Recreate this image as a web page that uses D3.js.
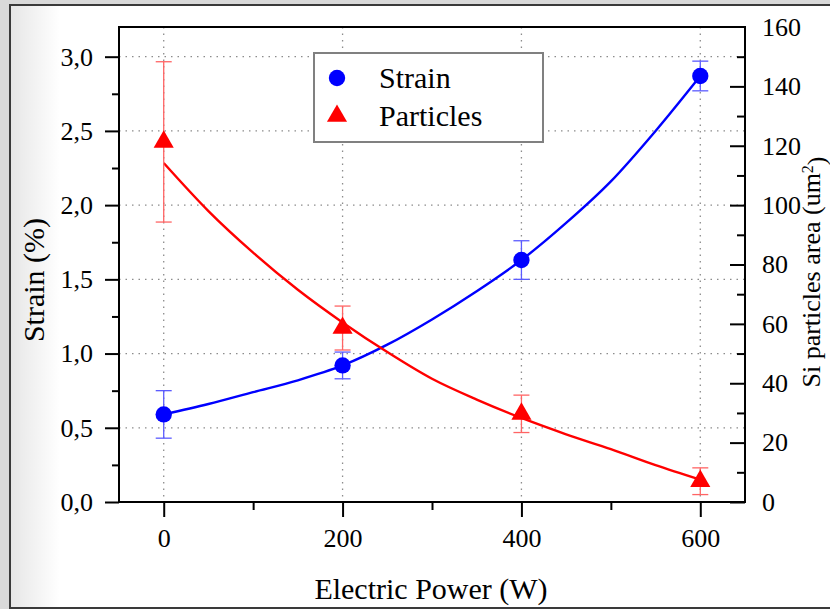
<!DOCTYPE html>
<html>
<head>
<meta charset="utf-8">
<script src="https://d3js.org/d3.v7.min.js"></script>
<style>
  body { margin: 0px; padding: 0px; background: #ffffff; }
  svg text { font-family: "Liberation Serif", "Times New Roman", serif; fill: #000; }
</style>
</head>
<body>
<div id="svg_cont"></div>
<script>

// measured points
var power = [0, 200, 400, 600];
var strain = [0.59, 0.92, 1.63, 2.87];
var strain_err = [0.16, 0.09, 0.13, 0.10];
var particles = [121.3, 58.6, 29.7, 7.0];
var particles_err = [27, 7.4, 6.3, 4.5];

// fitted curves
var fit_power = [0, 50, 100, 150, 200, 250, 300, 350, 400, 450, 500, 550, 600];
var strain_fit = [0.59, 0.66, 0.74, 0.82, 0.92, 1.06, 1.23, 1.42, 1.63, 1.88, 2.16, 2.50, 2.87];
var particles_fit = [114.2, 98, 84, 71.5, 60.5, 50.5, 41.5, 34.5, 28.3, 22.8, 17.8, 12.4, 7.5];

// axes
var x_ticks = [0, 200, 400, 600];
var x_minor = [100, 300, 500];
var y_left_ticks = [0, 0.5, 1.0, 1.5, 2.0, 2.5, 3.0];
var y_left_minor = [0.25, 0.75, 1.25, 1.75, 2.25, 2.75];
var y_right_ticks = [0, 20, 40, 60, 80, 100, 120, 140, 160];
var y_right_minor = [10, 30, 50, 70, 90, 110, 130, 150];

var legend_labels = ['Strain', 'Particles'];

var w = 830, h = 609;
var plot = { left: 119, right: 745, top: 27, bottom: 502 };

var svg_main = d3.select('div#svg_cont')
  .append('svg')
  .attr('width', w)
  .attr('height', h);

var defs = svg_main.append('defs');
var grad = defs.append('linearGradient').attr('id', 'bg_grad')
  .attr('x1', 0).attr('x2', 1).attr('y1', 0).attr('y2', 0);
grad.append('stop').attr('offset', '0%').attr('stop-color', '#e6e6e6');
grad.append('stop').attr('offset', '6%').attr('stop-color', '#ffffff');
grad.append('stop').attr('offset', '100%').attr('stop-color', '#ffffff');

svg_main.append('rect').attr('width', w).attr('height', h).attr('fill', '#d9d9d9');
svg_main.append('rect')
  .attr('x', 10).attr('y', 5).attr('width', w).attr('height', 603)
  .attr('fill', 'url(#bg_grad)')
  .attr('stroke', '#3a3a3a').attr('stroke-width', 2);

var x = d3.scaleLinear().domain([-50, 650]).range([plot.left, plot.right]);
var y_left = d3.scaleLinear().domain([0, 3.2]).range([plot.bottom, plot.top]);
var y_right = d3.scaleLinear().domain([0, 160]).range([plot.bottom, plot.top]);

var fmt_comma = function(d) { return d3.format('.1f')(d).replace('.', ','); };

// grid
var grid = svg_main.append('g')
  .attr('stroke', '#8c8c8c')
  .attr('stroke-width', 1.3)
  .attr('stroke-dasharray', '1.5,5');
grid.selectAll('line.gx')
  .data(x_ticks)
  .enter().append('line')
    .attr('x1', d => x(d)).attr('x2', d => x(d))
    .attr('y1', plot.top).attr('y2', plot.bottom);
grid.selectAll('line.gy')
  .data(y_left_ticks.filter(d => d > 0))
  .enter().append('line')
    .attr('x1', plot.left).attr('x2', plot.right)
    .attr('y1', d => y_left(d)).attr('y2', d => y_left(d));

// axes
var axis_font = '26px';
var title_font = '30px';

svg_main.append('g')
  .attr('transform', 'translate(0,' + plot.bottom + ')')
  .call(d3.axisBottom(x).tickValues(x_ticks).tickSize(15).tickPadding(12).tickFormat(d3.format('d')));
svg_main.append('g')
  .attr('transform', 'translate(0,' + plot.bottom + ')')
  .call(d3.axisBottom(x).tickValues(x_minor).tickSize(8).tickFormat(''));

svg_main.append('g')
  .attr('transform', 'translate(' + plot.left + ',0)')
  .call(d3.axisLeft(y_left).tickValues(y_left_ticks).tickSize(14).tickPadding(12).tickFormat(fmt_comma));
svg_main.append('g')
  .attr('transform', 'translate(' + plot.left + ',0)')
  .call(d3.axisLeft(y_left).tickValues(y_left_minor).tickSize(7).tickFormat(''));

// right axis: ticks point into the plot
svg_main.append('g')
  .attr('transform', 'translate(' + plot.right + ',0)')
  .call(d3.axisLeft(y_right).tickValues(y_right_ticks.filter(d => d < 160)).tickSize(15).tickFormat(''));
svg_main.append('g')
  .attr('transform', 'translate(' + plot.right + ',0)')
  .call(d3.axisLeft(y_right).tickValues(y_right_minor).tickSize(8).tickFormat(''));
svg_main.append('g').selectAll('text')
  .data(y_right_ticks)
  .enter().append('text')
    .attr('x', plot.right + 17)
    .attr('y', d => y_right(d))
    .attr('dy', '0.34em')
    .style('font-size', axis_font)
    .text(d => d);

svg_main.selectAll('.domain').remove();
svg_main.selectAll('.tick line').attr('stroke', '#000').attr('stroke-width', 2);
svg_main.selectAll('.tick text')
  .style('font-size', axis_font)
  .attr('font-family', null);

// plot frame
svg_main.append('rect')
  .attr('x', plot.left).attr('y', plot.top)
  .attr('width', plot.right - plot.left).attr('height', plot.bottom - plot.top)
  .attr('fill', 'none').attr('stroke', '#000').attr('stroke-width', 2);

// fit lines
var line_l = d3.line().curve(d3.curveMonotoneX)
  .x((d, i) => x(fit_power[i])).y(d => y_left(d));
var line_r = d3.line().curve(d3.curveMonotoneX)
  .x((d, i) => x(fit_power[i])).y(d => y_right(d));

svg_main.append('path').datum(strain_fit)
  .attr('d', line_l).attr('fill', 'none').attr('stroke', '#0000ff').attr('stroke-width', 2.4);
svg_main.append('path').datum(particles_fit)
  .attr('d', line_r).attr('fill', 'none').attr('stroke', '#ff0000').attr('stroke-width', 2.4);

// error bars
function error_bars(vals, errs, ys, colour) {
  var g = svg_main.append('g').attr('stroke', colour).attr('stroke-width', 1.3);
  vals.forEach(function(v, i) {
    var cx = x(power[i]);
    g.append('line').attr('x1', cx).attr('x2', cx)
      .attr('y1', ys(v - errs[i])).attr('y2', ys(v + errs[i]));
    [v - errs[i], v + errs[i]].forEach(function(e) {
      g.append('line').attr('x1', cx - 8).attr('x2', cx + 8)
        .attr('y1', ys(e)).attr('y2', ys(e));
    });
  });
}
error_bars(strain, strain_err, y_left, '#5b5bff');
error_bars(particles, particles_err, y_right, '#ff6464');

// markers
var circle_sym = d3.symbol().type(d3.symbolCircle).size(210);
var tri_sym = d3.symbol().type(d3.symbolTriangle).size(175);

svg_main.append('g').selectAll('path')
  .data(strain)
  .enter().append('path')
    .attr('d', circle_sym)
    .attr('transform', (d, i) => 'translate(' + x(power[i]) + ',' + y_left(d) + ')')
    .attr('fill', '#0000ff');
svg_main.append('g').selectAll('path')
  .data(particles)
  .enter().append('path')
    .attr('d', tri_sym)
    .attr('transform', (d, i) => 'translate(' + x(power[i]) + ',' + y_right(d) + ')')
    .attr('fill', '#ff0000');

// legend
var legend = svg_main.append('g');
legend.append('rect')
  .attr('x', 314).attr('y', 53).attr('width', 229).attr('height', 89)
  .attr('fill', '#fff').attr('stroke', '#808080').attr('stroke-width', 2);
legend.append('path').attr('d', circle_sym)
  .attr('transform', 'translate(337,78)').attr('fill', '#0000ff');
legend.append('path').attr('d', tri_sym)
  .attr('transform', 'translate(337,116)').attr('fill', '#ff0000');
legend.selectAll('text')
  .data(legend_labels)
  .enter().append('text')
    .attr('x', 379)
    .attr('y', (d, i) => 88 + i * 38)
    .style('font-size', title_font)
    .text(d => d);

// axis titles
svg_main.append('text')
  .attr('x', 431).attr('y', 599)
  .attr('text-anchor', 'middle')
  .style('font-size', title_font)
  .text('Electric Power (W)');

svg_main.append('text')
  .attr('transform', 'translate(44,280) rotate(-90)')
  .attr('text-anchor', 'middle')
  .style('font-size', title_font)
  .text('Strain (%)');

var rt = svg_main.append('text')
  .attr('transform', 'translate(820,272) rotate(-90)')
  .attr('text-anchor', 'middle')
  .style('font-size', '26px');
rt.append('tspan').text('Si particles area (um');
rt.append('tspan').attr('dy', '-0.45em').style('font-size', '16px').text('2');
rt.append('tspan').attr('dy', '0.45em').text(')');

</script>
</body>
</html>
